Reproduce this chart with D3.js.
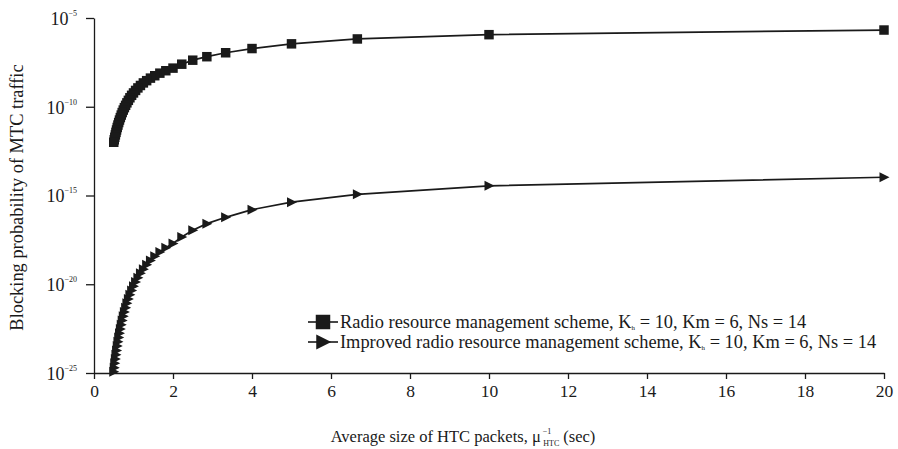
<!DOCTYPE html>
<html>
<head>
<meta charset="utf-8">
<script src="https://cdn.jsdelivr.net/npm/d3@7"></script>
<style>
  html, body { margin: 0; padding: 0; background: #fff; }
  svg text { font-family: "Liberation Serif", "DejaVu Serif", serif; fill: #1a1a1a; }
</style>
</head>
<body>
<svg id="chart" width="898" height="449"></svg>
<script>
// Average HTC packet size (sec)
const packetSize = [20, 10, 6.667, 5, 4, 3.333, 2.857, 2.5, 2.222, 2,
  1.818, 1.667, 1.538, 1.429, 1.333, 1.25, 1.176, 1.111, 1.053, 1,
  0.952, 0.909, 0.870, 0.833, 0.8, 0.769, 0.741, 0.714, 0.690, 0.667,
  0.645, 0.625, 0.606, 0.588, 0.571, 0.556, 0.541, 0.526, 0.513, 0.5];

// Blocking probability of MTC traffic, original scheme
const blockingBasic = [2.1e-6, 1.15e-6, 6.6e-7, 3.5e-7, 1.9e-7, 1.1e-7, 6.6e-8, 4.2e-8, 2.5e-8, 1.5e-8,
  1.07e-8, 7.8e-9, 5.6e-9, 4.1e-9, 2.95e-9, 2.2e-9, 1.58e-9, 1.15e-9, 8.3e-10, 6.0e-10,
  4.4e-10, 3.2e-10, 2.3e-10, 1.66e-10, 1.2e-10, 8.9e-11, 6.5e-11, 4.7e-11, 3.4e-11, 2.45e-11,
  1.78e-11, 1.29e-11, 9.3e-12, 6.8e-12, 4.9e-12, 3.6e-12, 2.6e-12, 1.9e-12, 1.38e-12, 1.0e-12];

// Blocking probability of MTC traffic, improved scheme
const blockingImproved = [1.07e-14, 3.5e-15, 1.17e-15, 4.2e-16, 1.6e-16, 5.9e-17, 2.6e-17, 1.1e-17, 4.6e-18, 2.0e-18,
  1.15e-18, 6.6e-19, 3.8e-19, 2.2e-19, 1.24e-19, 7.1e-20, 4.1e-20, 2.35e-20, 1.35e-20, 7.8e-21,
  4.5e-21, 2.6e-21, 1.48e-21, 8.5e-22, 4.8e-22, 2.75e-22, 1.6e-22, 9.1e-23, 5.2e-23, 3.0e-23,
  1.73e-23, 1.0e-23, 5.7e-24, 3.3e-24, 1.87e-24, 1.07e-24, 6.2e-25, 3.5e-25, 2.0e-25, 1.17e-25];

const xTicks = [0, 2, 4, 6, 8, 10, 12, 14, 16, 18, 20];
const yTickExponents = [-25, -20, -15, -10, -5];
const seriesNames = [
  "Radio resource management scheme, K",
  "Improved radio resource management scheme, K"
];

const ink = "#1a1a1a";
const svg = d3.select("#chart");
const plotLeft = 94, plotRight = 884, plotTop = 18, plotBottom = 373;

const x = d3.scaleLinear().domain([0, 20]).range([plotLeft, plotRight]);
const y = d3.scaleLog().domain([1e-25, 1e-5]).range([plotBottom, plotTop]);

// X axis
const xAxis = svg.append("g")
  .attr("transform", `translate(0,${plotBottom})`)
  .call(d3.axisBottom(x).tickValues(xTicks).tickSize(6).tickSizeOuter(0).tickPadding(6));
xAxis.selectAll("text").attr("font-size", 17.5).style("font-family", "Liberation Serif");

// Y axis with power-of-ten labels
const yAxis = svg.append("g")
  .attr("transform", `translate(${plotLeft},0)`)
  .call(d3.axisLeft(y).tickValues(yTickExponents.map(e => Math.pow(10, e)))
    .tickSize(8).tickSizeOuter(0).tickFormat(() => ""));
yAxis.selectAll(".tick").each(function(d) {
  const e = Math.round(Math.log10(d));
  const t = d3.select(this).select("text")
    .attr("x", -17).attr("dy", "0.35em").attr("font-size", 18)
    .attr("text-anchor", "end").style("font-family", "Liberation Serif");
  t.text("");
  t.append("tspan").text("10");
  t.append("tspan").attr("font-size", 8).attr("dy", -9).text("\u2212" + (-e));
});
svg.selectAll(".domain, .tick line").attr("stroke", ink).attr("stroke-width", 1.3);

// Axis titles
const xTitle = svg.append("text")
  .attr("x", 463).attr("y", 442).attr("text-anchor", "middle").attr("font-size", 16.5);
xTitle.append("tspan").text("Average size of HTC packets, \u03bc");
xTitle.append("tspan").attr("font-size", 8).attr("dy", -8).attr("dx", 2).text("\u22121");
xTitle.append("tspan").attr("font-size", 8).attr("dy", 12).attr("dx", -8).text("HTC");
xTitle.append("tspan").attr("dy", -4).attr("dx", 4).text("(sec)");

svg.append("text")
  .attr("transform", `translate(23,${(plotTop + plotBottom) / 2 + 2}) rotate(-90)`)
  .attr("text-anchor", "middle").attr("font-size", 18.4)
  .text("Blocking probability of MTC traffic");

// Series
const line = d3.line().x(d => x(d[0])).y(d => y(d[1]));
const basic = packetSize.map((p, i) => [p, blockingBasic[i]]);
const improved = packetSize.map((p, i) => [p, blockingImproved[i]]);

const sq = d3.symbol().type(d3.symbolSquare);
const tri = s => {
  const h = s / 2;
  return `M${-h * 0.9},${-h}L${h * 1.1},0L${-h * 0.9},${h}Z`;
};

[[basic, "sq"], [improved, "tri"]].forEach(([data, kind]) => {
  svg.append("path").datum(data).attr("d", line)
    .attr("fill", "none").attr("stroke", ink).attr("stroke-width", 1.7);
  svg.append("g").selectAll("path").data(data).join("path")
    .attr("transform", d => `translate(${x(d[0])},${y(d[1])})`)
    .attr("d", kind === "sq" ? sq.size(90)() : tri(10))
    .attr("fill", ink);
});

// Legend
const legend = svg.append("g").attr("transform", "translate(308,322)");
[0, 1].forEach(i => {
  const g = legend.append("g").attr("transform", `translate(0,${i * 20})`);
  g.append("line").attr("x1", 0).attr("x2", 30).attr("y1", 0).attr("y2", 0)
    .attr("stroke", ink).attr("stroke-width", 1.6);
  g.append("path")
    .attr("transform", "translate(15,0)")
    .attr("d", i === 0 ? sq.size(210)() : tri(15))
    .attr("fill", ink);
  const t = g.append("text").attr("x", 32).attr("y", 6).attr("font-size", 18.4);
  t.append("tspan").text(seriesNames[i]);
  t.append("tspan").attr("font-size", 7).attr("dy", 2).text("h");
  t.append("tspan").attr("dy", -2).text(" = 10, Km = 6, Ns = 14");
});
</script>
</body>
</html>
